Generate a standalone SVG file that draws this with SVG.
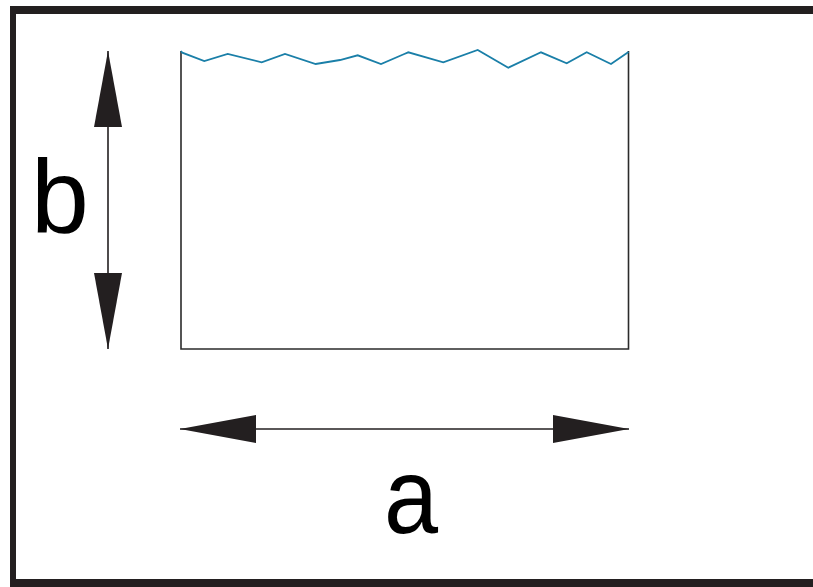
<svg xmlns="http://www.w3.org/2000/svg" width="813" height="587" viewBox="0 0 813 587">
  <style>
    .frame { fill: none; stroke: #231f20; }
    .box { fill: none; stroke: #2b2b2b; stroke-width: 1.6; }
    .wave { fill: none; stroke: #1a7fa8; stroke-width: 1.8; stroke-linejoin: miter; }
    .dim { fill: none; stroke: #231f20; stroke-width: 1.6; }
    .lbl { font-family: "Liberation Sans", Arial, sans-serif; fill: #000; }
  </style>
  <defs>
    <marker id="ah" markerUnits="userSpaceOnUse" markerWidth="77" markerHeight="28" refX="76" refY="14" orient="auto-start-reverse" viewBox="0 0 77 28">
      <path d="M0,0 L76,14 L0,28 Z" fill="#231f20"/>
    </marker>
  </defs>
  <rect width="813" height="587" fill="#ffffff"/>
  <g id="frame">
    <path class="frame" stroke-width="8" d="M820,10 H13"/>
    <path class="frame" stroke-width="6" d="M13,6 V587"/>
    <path class="frame" stroke-width="8" d="M10,583 H820"/>
  </g>
  <g id="tank">
    <path class="box" d="M181,51 V349 H628.5 V51"/>
    <polyline class="wave" points="181,51 182.3,52.7 204.3,61 227.7,54 261.7,62.3 285,54 315.7,64 340,60 357.7,55.3 381,64 404.3,54 408.3,52.3 443.3,62.3 477.7,50 508.3,67.7 541,52.3 566.7,63.3 586.7,52.3 611,64 628.5,52"/>
  </g>
  <g id="connectors">
    <line class="dim" x1="108" y1="51" x2="108" y2="349" marker-start="url(#ah)" marker-end="url(#ah)"/>
    <line class="dim" x1="180" y1="429" x2="629" y2="429" marker-start="url(#ah)" marker-end="url(#ah)"/>
  </g>
  <g id="label-b">
    <text class="lbl" x="31" y="232" font-size="104">b</text>
  </g>
  <g id="label-a">
    <text class="lbl" transform="translate(384,533) scale(0.9,1)" x="0" y="0" font-size="108">a</text>
  </g>
</svg>
